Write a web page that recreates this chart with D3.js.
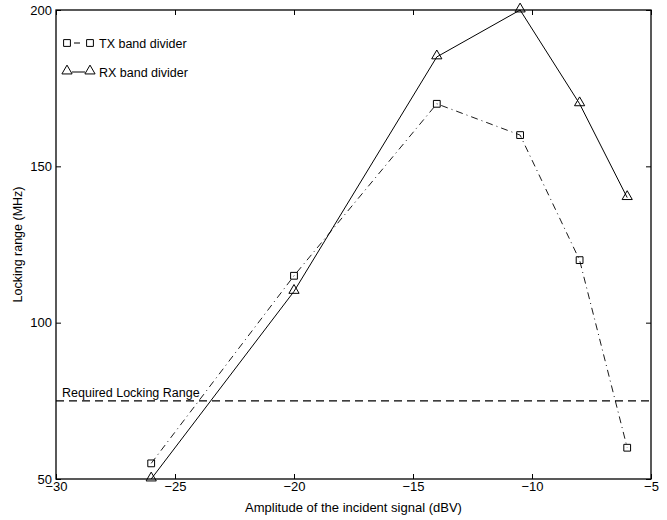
<!DOCTYPE html>
<html>
<head>
<meta charset="utf-8">
<script src="https://cdn.jsdelivr.net/npm/d3@7"></script>
<style>
  body { margin: 0; background: #fff; }
  text { font-family: "Liberation Sans", Arial, Helvetica, sans-serif; }
</style>
</head>
<body>
<script>
// data
const txAmplitude = [-26, -20, -14, -10.5, -8, -6];
const txLocking = [55, 115, 170, 160, 120, 60];
const rxAmplitude = [-26, -20, -14, -10.5, -8, -6];
const rxLocking = [50, 110, 185, 200, 170, 140];
const requiredRange = 75;
const xTicks = [-30, -25, -20, -15, -10, -5];
const yTicks = [50, 100, 150, 200];

const width = 667, height = 520;
const margin = { top: 10, right: 16, bottom: 41, left: 56 };
const w = width - margin.left - margin.right;
const h = height - margin.top - margin.bottom;

const svg = d3.select('body').append('svg')
  .attr('width', width)
  .attr('height', height);

const g = svg.append('g')
  .attr('transform', `translate(${margin.left},${margin.top})`);

const x = d3.scaleLinear().domain([-30, -5]).range([0, w]);
const y = d3.scaleLinear().domain([50, 200]).range([h, 0]);

const fmt = d => String(d).replace('-', '\u2212');

// axes (MATLAB style, ticks inside, mirrored)
const styleAxis = sel => {
  sel.select('.domain').remove();
  sel.selectAll('line').attr('stroke', '#000').attr('stroke-width', 1);
  sel.selectAll('text').attr('fill', '#000').attr('font-size', 13);
};

g.append('g')
  .attr('transform', `translate(0,${h})`)
  .call(d3.axisBottom(x).tickValues(xTicks).tickFormat(fmt).tickSizeInner(-5).tickPadding(3))
  .call(styleAxis)
  .selectAll('text').attr('dy', '0.75em').attr('y', 2);

g.append('g')
  .call(d3.axisTop(x).tickValues(xTicks).tickFormat('').tickSizeInner(-5))
  .call(styleAxis);

g.append('g')
  .call(d3.axisLeft(y).tickValues(yTicks).tickSizeInner(-5).tickPadding(4))
  .call(styleAxis)
  .selectAll('text').attr('x', -4);

g.append('g')
  .attr('transform', `translate(${w},0)`)
  .call(d3.axisRight(y).tickValues(yTicks).tickFormat('').tickSizeInner(-5))
  .call(styleAxis);

// box
g.append('rect')
  .attr('width', w).attr('height', h)
  .attr('fill', 'none').attr('stroke', '#000').attr('stroke-width', 1.3);

// axis labels
svg.append('text')
  .attr('x', margin.left + w / 2).attr('y', 512)
  .attr('text-anchor', 'middle').attr('font-size', 13)
  .text('Amplitude of the incident signal (dBV)');

svg.append('text')
  .attr('transform', `translate(22,${margin.top + h / 2}) rotate(-90)`)
  .attr('text-anchor', 'middle').attr('font-size', 12.5)
  .text('Locking range (MHz)');

// required range
g.append('line')
  .attr('x1', 0).attr('x2', w)
  .attr('y1', y(requiredRange)).attr('y2', y(requiredRange))
  .attr('stroke', '#000').attr('stroke-width', 1.2)
  .attr('stroke-dasharray', '8,5');

g.append('text')
  .attr('x', 6).attr('y', y(requiredRange) - 4)
  .attr('font-size', 12.5)
  .text('Required Locking Range');

const line = d3.line().x(d => x(d[0])).y(d => y(d[1]));
const txData = txAmplitude.map((a, i) => [a, txLocking[i]]);
const rxData = rxAmplitude.map((a, i) => [a, rxLocking[i]]);

g.append('path').datum(txData)
  .attr('d', line).attr('fill', 'none')
  .attr('stroke', '#000').attr('stroke-width', 0.9)
  .attr('stroke-dasharray', '7,4,1,4');

g.append('path').datum(rxData)
  .attr('d', line).attr('fill', 'none')
  .attr('stroke', '#000').attr('stroke-width', 1);

const square = d3.symbol().type(d3.symbolSquare).size(46);
const triangle = d3.symbol().type(d3.symbolTriangle).size(45);

g.selectAll('.tx').data(txData).enter().append('path')
  .attr('class', 'tx')
  .attr('transform', d => `translate(${x(d[0])},${y(d[1])})`)
  .attr('d', square).attr('fill', 'none').attr('stroke', '#000').attr('stroke-width', 1);

g.selectAll('.rx').data(rxData).enter().append('path')
  .attr('class', 'rx')
  .attr('transform', d => `translate(${x(d[0])},${y(d[1]) - 1})`)
  .attr('d', triangle).attr('fill', 'none').attr('stroke', '#000').attr('stroke-width', 1);

// legend
const legend = svg.append('g');
const legendItems = [
  { label: 'TX band divider', sym: square, dash: '0,7,6,20', y: 43 },
  { label: 'RX band divider', sym: triangle, dash: null, y: 72 }
];
legendItems.forEach(it => {
  legend.append('line')
    .attr('x1', 67).attr('x2', 90).attr('y1', it.y).attr('y2', it.y)
    .attr('stroke', '#000').attr('stroke-width', 1)
    .attr('stroke-dasharray', it.dash);
  [67, 90].forEach(px => {
    legend.append('rect').attr('x', px - 5).attr('y', it.y - 5).attr('width', 10).attr('height', 10).attr('fill', '#fff');
    legend.append('path')
      .attr('transform', `translate(${px},${it.y - (it.sym === triangle ? 1 : 0)})`)
      .attr('d', it.sym).attr('fill', 'none').attr('stroke', '#000');
  });
  legend.append('text')
    .attr('x', 99).attr('y', it.y + 4.5)
    .attr('font-size', 12.5)
    .text(it.label);
});
</script>
</body>
</html>
